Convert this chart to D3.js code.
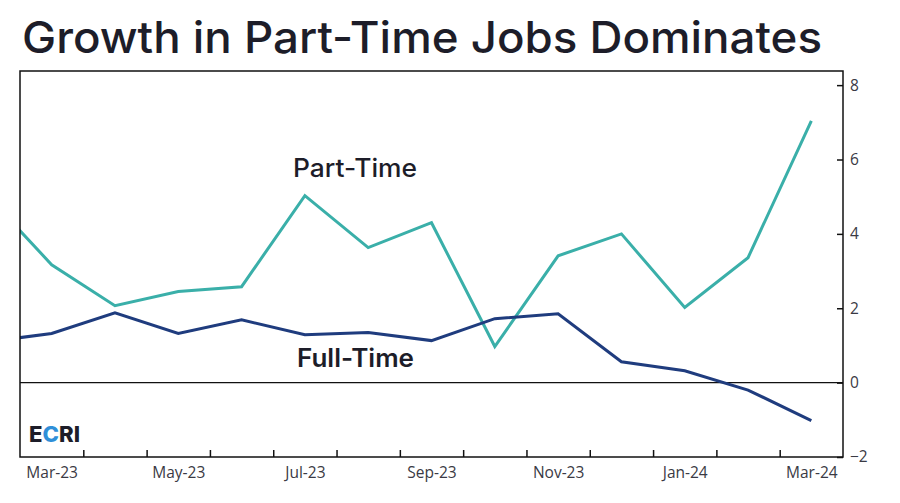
<!DOCTYPE html>
<html>
<head>
<meta charset="utf-8">
<script src="https://cdn.jsdelivr.net/npm/d3@7"></script>
<style>
  html, body { margin: 0; padding: 0; background: #fff; }
  svg { display: block; }
</style>
</head>
<body>
<svg id="chart" width="900" height="503"></svg>
<script>
// ---- data ----
const months = ["Feb-23","Mar-23","Apr-23","May-23","Jun-23","Jul-23","Aug-23","Sep-23","Oct-23","Nov-23","Dec-23","Jan-24","Feb-24","Mar-24"];
const partTime = [5.0, 3.17, 2.07, 2.45, 2.58, 5.03, 3.63, 4.30, 0.97, 3.41, 4.0, 2.02, 3.36, 7.04];
const fullTime = [1.1, 1.32, 1.88, 1.32, 1.69, 1.29, 1.35, 1.13, 1.72, 1.85, 0.56, 0.32, -0.2, -1.02];
const yTicks = [-2, 0, 2, 4, 6, 8];
const xLabels = ["Mar-23","May-23","Jul-23","Sep-23","Nov-23","Jan-24","Mar-24"];
const title = "Growth in Part-Time Jobs Dominates";

// ---- layout ----
const svg = d3.select("#chart");
const L = 20, R = 843, T = 71, B = 457;

const x = d3.scaleLinear().domain([0.5, months.length - 0.5]).range([L, R]);
const y = d3.scaleLinear().domain([-2, 8.38]).range([B, T]);

svg.append("defs").append("clipPath").attr("id", "plotclip")
  .append("rect").attr("x", L).attr("y", T).attr("width", R - L).attr("height", B - T);

// title
svg.append("text")
  .attr("x", 22).attr("y", 53)
  .attr("textLength", 800).attr("lengthAdjust", "spacingAndGlyphs")
  .style("font-family", "Inter, 'Open Sans', sans-serif")
  .style("font-weight", 500)
  .style("font-size", "44px")
  .style("fill", "#1d1d29")
  .text(title);

// zero line
svg.append("line")
  .attr("x1", L).attr("x2", R).attr("y1", y(0)).attr("y2", y(0))
  .attr("stroke", "#111").attr("stroke-width", 1.2);

// lines
const line = d3.line().x((d, i) => x(i)).y(d => y(d));
const g = svg.append("g").attr("clip-path", "url(#plotclip)");
g.append("path").datum(partTime).attr("d", line)
  .attr("fill", "none").attr("stroke", "#3aafa9").attr("stroke-width", 3).attr("stroke-linejoin", "miter");
g.append("path").datum(fullTime).attr("d", line)
  .attr("fill", "none").attr("stroke", "#1f3c7e").attr("stroke-width", 3).attr("stroke-linejoin", "miter");

// frame
svg.append("rect").attr("x", L).attr("y", T).attr("width", R - L).attr("height", B - T)
  .attr("fill", "none").attr("stroke", "#111").attr("stroke-width", 1.5);

// x tick marks (band boundaries, inward)
const bounds = d3.range(1, months.length - 1).map(i => i + 0.5).filter(v => v < months.length - 0.5);
const xTickAxis = d3.axisBottom(x).tickValues(bounds).tickSize(-7).tickFormat("");
const gxt = svg.append("g").attr("transform", `translate(0,${B})`).call(xTickAxis);
gxt.select(".domain").remove();
gxt.selectAll("line").attr("stroke", "#111").attr("stroke-width", 1.5);

// x labels
const xLabelAxis = d3.axisBottom(x)
  .tickValues(xLabels.map(m => months.indexOf(m)))
  .tickFormat(i => months[i]).tickSize(0).tickPadding(10);
const gxl = svg.append("g").attr("transform", `translate(0,${B})`).call(xLabelAxis);
gxl.select(".domain").remove();
gxl.selectAll("text")
  .style("font-family", "'Open Sans', sans-serif").style("font-size", "15.5px").style("fill", "#3a3a44");

// y axis (right)
const yAxis = d3.axisRight(y).tickValues(yTicks).tickSize(-6).tickPadding(7).tickFormat(d3.format("d"));
const gy = svg.append("g").attr("transform", `translate(${R},0)`).call(yAxis);
gy.select(".domain").remove();
gy.selectAll("line").attr("stroke", "#111").attr("stroke-width", 1.5);
gy.selectAll("text")
  .style("font-family", "'Open Sans', sans-serif").style("font-size", "15.5px").style("fill", "#3a3a44");

// series labels
svg.append("text").attr("x", 293).attr("y", 177)
  .attr("textLength", 124).attr("lengthAdjust", "spacingAndGlyphs")
  .style("font-family", "Inter, 'Open Sans', sans-serif").style("font-weight", 500).style("font-size", "25px")
  .style("fill", "#1d1d29").text("Part-Time");
svg.append("text").attr("x", 297).attr("y", 367)
  .attr("textLength", 117).attr("lengthAdjust", "spacingAndGlyphs")
  .style("font-family", "Inter, 'Open Sans', sans-serif").style("font-weight", 600).style("font-size", "25px")
  .style("fill", "#1d1d29").text("Full-Time");

// ECRI logo
const logo = svg.append("text").attr("x", 29).attr("y", 442)
  .attr("textLength", 51).attr("lengthAdjust", "spacingAndGlyphs")
  .style("font-family", "Inter, 'Open Sans', sans-serif").style("font-weight", 800).style("font-size", "22px")
  .style("fill", "#1d1d29");
logo.append("tspan").text("E");
logo.append("tspan").style("fill", "#2f8fd8").text("C");
logo.append("tspan").text("RI");
</script>
</body>
</html>
